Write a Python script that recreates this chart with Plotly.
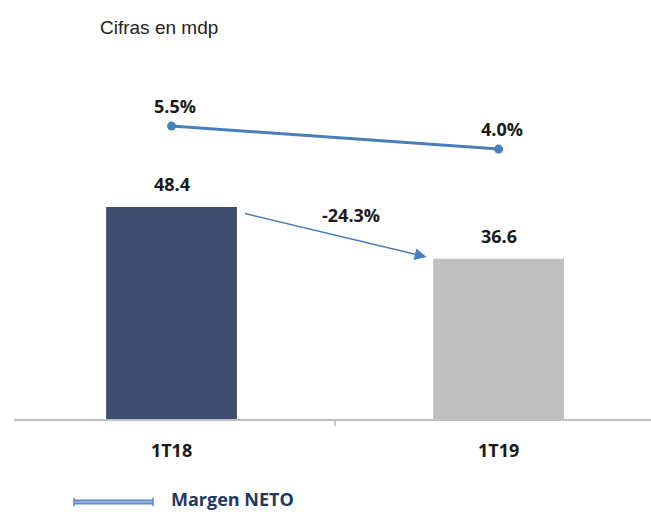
import plotly.graph_objects as go

categories = ["1T18", "1T19"]
utilidad = [48.4, 36.6]          # Cifras en mdp
margen_neto = [5.5, 4.0]         # %
variacion_pct = -24.3
bar_colors = ["#3f4c6d", "#bfbfbf"]

W, H = 651, 512
L, R, T, B = 14, 0, 60, 93
bar_w = 0.40
line_color = "#4a7ebb"
lab_font = dict(family="Open Sans", size=18, color="#1a1a1a", weight="bold")

x = list(range(len(categories)))

fig = go.Figure()
fig.add_trace(go.Bar(x=x, y=utilidad, width=bar_w, marker=dict(color=bar_colors, line=dict(width=0)),
                     showlegend=False, hoverinfo="skip"))
fig.add_trace(go.Scatter(x=x, y=margen_neto, yaxis="y2", mode="lines+markers",
                         line=dict(color=line_color, width=3), marker=dict(size=9, color=line_color),
                         name="Margen NETO", showlegend=False))

ann = []
for xi, v in zip(x, utilidad):
    ann.append(dict(x=xi, y=v, xref="x", yref="y", text=f"{v:.1f}", showarrow=False,
                    yanchor="bottom", yshift=9, font=lab_font))
for xi, v in zip(x, margen_neto):
    ann.append(dict(x=xi, y=v, xref="x", yref="y2", text=f"{v:.1f}%", showarrow=False,
                    yanchor="bottom", yshift=6, xshift=3, font=lab_font))

# arrow between bars
x_tail = x[0] + bar_w / 2 + 0.02
y_tail = utilidad[0] - 1.4
x_head = x[1] - bar_w / 2 - 0.02
y_head = utilidad[1] + 0.4
ann.append(dict(x=x_head, y=y_head, ax=x_tail, ay=y_tail, xref="x", yref="y", axref="x", ayref="y",
                text="", showarrow=True, arrowhead=2, arrowsize=1.6, arrowwidth=1.5, arrowcolor=line_color))
ann.append(dict(x=(x_tail + x_head) / 2, y=(y_tail + y_head) / 2, xref="x", yref="y",
                text=f"{variacion_pct:.1f}%", showarrow=False, xshift=16, yshift=20, font=lab_font))

# legend (manual)
pw = W - L - R
ph = H - T - B
lx0 = (74 - L) / pw
lx1 = (153 - L) / pw
ly = -(502 - (H - B)) / ph
ly_txt = -(499 - (H - B)) / ph
ann.append(dict(x=(170 - L) / pw, y=ly_txt, xref="paper", yref="paper", text="Margen NETO",
                showarrow=False, xanchor="left", yanchor="middle", borderpad=0,
                font=dict(family="Open Sans", size=18, color="#1f3864", weight="bold")))

shapes = [
    dict(type="line", xref="x", yref="paper", x0=0.5, x1=0.5, y0=0, y1=-0.02,
         line=dict(color="#bbbbbb", width=1.5)),
    dict(type="line", xref="paper", yref="paper", x0=lx0, x1=lx1, y0=ly, y1=ly,
         line=dict(color="#5a8cc8", width=5)),
    dict(type="line", xref="paper", yref="paper", x0=lx0, x1=lx1, y0=ly, y1=ly,
         line=dict(color="#9cbde6", width=1.5)),
    dict(type="line", xref="paper", yref="paper", x0=lx0, x1=lx0, y0=ly - 0.012, y1=ly + 0.012,
         line=dict(color="#5a8cc8", width=1.5)),
    dict(type="line", xref="paper", yref="paper", x0=lx1, x1=lx1, y0=ly - 0.012, y1=ly + 0.012,
         line=dict(color="#5a8cc8", width=1.5)),
]

fig.update_layout(
    width=W, height=H, margin=dict(l=L, r=R, t=T, b=B),
    paper_bgcolor="white", plot_bgcolor="white",
    title=dict(text="Cifras en mdp", x=100 / W, xref="container", xanchor="left",
               y=1 - 27 / H, yref="container", yanchor="middle",
               font=dict(family="Liberation Sans", size=19, color="#222222")),
    xaxis=dict(range=[-0.4817, 1.466], tickvals=x, ticktext=categories, showgrid=False, zeroline=False,
               showline=True, linecolor="#c0c0c0", linewidth=2, ticks="", ticklabelstandoff=14,
               tickfont=lab_font),
    yaxis=dict(range=[0, 82.0], visible=False, showgrid=False, zeroline=False),
    yaxis2=dict(range=[-13.61, 9.81], overlaying="y", visible=False, showgrid=False, zeroline=False),
    annotations=ann, shapes=shapes, showlegend=False,
)

fig.write_html("out.html", config={"displayModeBar": False},
               post_script="document.body.style.margin='0';document.body.style.overflow='hidden';")
